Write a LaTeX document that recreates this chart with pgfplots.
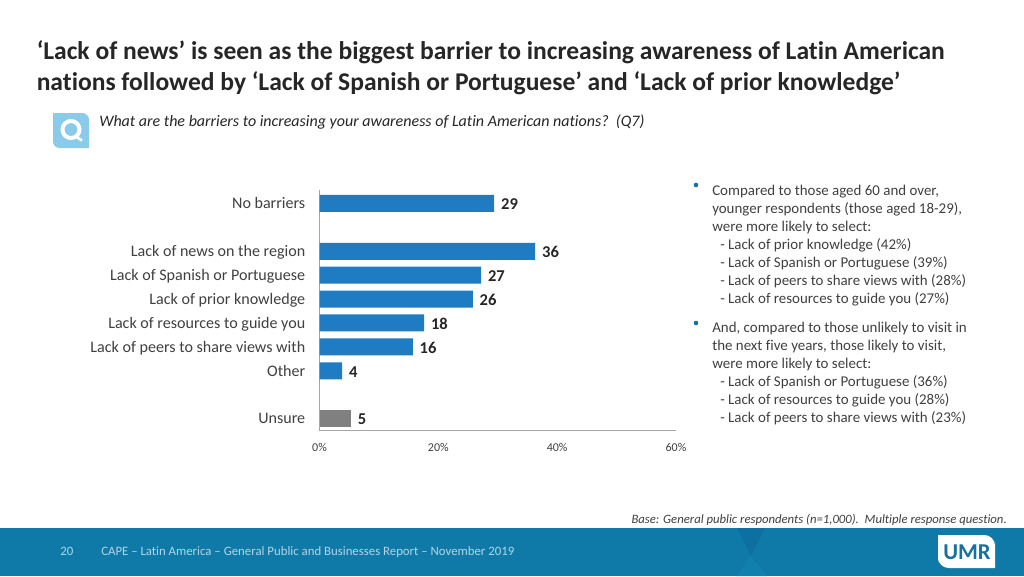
\documentclass[border=0pt]{standalone}
\usepackage{fontspec}
\setmainfont[Ligatures={TeX,NoCommon}]{Carlito}
\usepackage{pgfplots}
\pgfplotsset{compat=1.18}
\definecolor{barblue}{HTML}{1F7BC2}
\definecolor{bargray}{HTML}{808080}
\definecolor{inktext}{HTML}{404040}
\definecolor{titletext}{HTML}{262626}
\definecolor{band}{HTML}{0F79A8}
\definecolor{banddark}{HTML}{0E6FA3}
\definecolor{bandlight}{HTML}{1180AE}
\definecolor{footertext}{HTML}{B5D5E4}
\definecolor{iconblue}{HTML}{89CBE8}
\definecolor{umrblue}{HTML}{17709E}
\begin{document}
\begin{tikzpicture}
\begin{scope}[x=0.75pt,y=-0.75pt]
\useasboundingbox (0,0) rectangle (1024,576);
\fill[white] (0,0) rectangle (1024,576);
% footer band
\fill[band] (0,528) rectangle (1024,576);
\fill[banddark] (737,528) -- (765,528) -- (751,556) -- cycle;
\fill[bandlight] (751,556) -- (736,576) -- (767,576) -- cycle;
% title
\node[anchor=base west,inner sep=0pt,text=titletext,font=\fontsize{19.17}{22}\selectfont\bfseries] at (36.5,59) {‘Lack of news’ is seen as the biggest barrier to increasing awareness of Latin American};
\node[anchor=base west,inner sep=0pt,text=titletext,font=\fontsize{19.17}{22}\selectfont\bfseries] at (36.5,90) {nations followed by ‘Lack of Spanish or Portuguese’ and ‘Lack of prior knowledge’};
% question icon
\fill[iconblue] (53,113) -- (70,113) [rounded corners=5pt] -- (89,113) -- (89,130) [sharp corners] -- (89,148) -- (70,148) [rounded corners=5pt] -- (53,148) -- (53,130) [sharp corners] -- cycle;
\draw[white,line width=3pt] (71,129.5) circle (8.5);
\draw[white,line width=2pt] (75,136) -- (82,140.5);
\node[anchor=base west,inner sep=0pt,text=titletext,font=\fontsize{12}{14}\selectfont\itshape] at (99,126.5) {What are the barriers to increasing your awareness of Latin American nations?\ \ (Q7)};
% bullets
\fill[umrblue] (696,185) circle (2.3);
\fill[umrblue] (696,323) circle (2.3);
\foreach \yy/\tt in {
  195/{Compared to those aged 60 and over,},
  213/{younger respondents (those aged 18-29),},
  231/{were more likely to select:},
  249/{\hspace*{6pt}- Lack of prior knowledge (42\%)},
  267/{\hspace*{6pt}- Lack of Spanish or Portuguese (39\%)},
  285/{\hspace*{6pt}- Lack of peers to share views with (28\%)},
  303/{\hspace*{6pt}- Lack of resources to guide you (27\%)},
  332/{And, compared to those unlikely to visit in},
  350/{the next five years, those likely to visit,},
  368/{were more likely to select:},
  386/{\hspace*{6pt}- Lack of Spanish or Portuguese (36\%)},
  404/{\hspace*{6pt}- Lack of resources to guide you (28\%)},
  422/{\hspace*{6pt}- Lack of peers to share views with (23\%)}}
  {\node[anchor=base west,inner sep=0pt,text=inktext,font=\fontsize{11.2}{13}\selectfont] at (712,\yy) {\tt};}
% base note and footer
\node[anchor=base east,inner sep=0pt,text=inktext,font=\fontsize{9.53}{11}\selectfont\itshape] at (1007,523) {Base: General public respondents (n=1,000).\ \ Multiple response question.};
\node[anchor=base west,inner sep=0pt,text=footertext,font=\fontsize{9.6}{11}\selectfont] at (60,555) {20};
\node[anchor=base west,inner sep=0pt,text=footertext,font=\fontsize{9.6}{11}\selectfont] at (101,555) {CAPE – Latin America – General Public and Businesses Report – November 2019};
% logo
\fill[white] (938,535) -- (965,535) [rounded corners=8pt] -- (995,535) -- (995,552) [sharp corners] -- (995,568) -- (965,568) [rounded corners=8pt] -- (938,568) -- (938,552) [sharp corners] -- cycle;
\node[inner sep=0pt,font=\fontsize{17}{18}\selectfont\bfseries,text=umrblue] at (967,552) {UMR};
\end{scope}
% chart
\begin{axis}[
    at={(239.625pt,-322.875pt)}, anchor=south west,
    scale only axis,
    width=267.4pt, height=180.4pt,
    xbar, bar shift=0pt, bar width=12.75pt,
    xmin=0, xmax=60, ymin=-0.5, ymax=9.565,
    axis lines*=left,
    axis line style={draw=black!35,-},
    tickwidth=0pt,
    xtick={0,20,40,60},
    xticklabels={0\%,20\%,40\%,60\%},
    ytick={0,2,3,4,5,6,7,9},
    yticklabels={Unsure,Other,Lack of peers to share views with,Lack of resources to guide you,Lack of prior knowledge,Lack of Spanish or Portuguese,Lack of news on the region,No barriers},
    yticklabel style={font=\fontsize{12.05}{14}\selectfont,text=inktext,inner sep=0pt,anchor=base east,xshift=-10.5pt,yshift=-4pt},
    xticklabel style={font=\fontsize{9}{11}\selectfont,text=inktext,inner sep=0pt,anchor=base,yshift=-16pt},
    nodes near coords,
    nodes near coords style={font=\fontsize{12.4}{14}\selectfont\bfseries,text=titletext,anchor=west,inner sep=0pt,xshift=5pt,yshift=-0.7pt,/pgf/number format/fixed,/pgf/number format/precision=0,/pgf/number format/assume math mode=true},
]
\addplot[draw=none,fill=barblue] coordinates {
  (3.8,2) (15.7,3) (17.6,4) (25.8,5) (27.2,6) (36.3,7) (29.4,9)};
\addplot[draw=none,fill=bargray] coordinates {(5.3,0)};
\end{axis}
\end{tikzpicture}
\end{document}
